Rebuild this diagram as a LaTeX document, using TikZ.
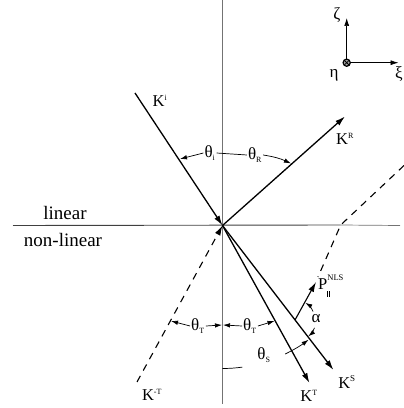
\documentclass[tikz,border=0pt]{standalone}
\usepackage{fontspec}
\setmainfont{Liberation Serif}
\usetikzlibrary{arrows.meta}
\begin{document}
\begin{tikzpicture}[x=1pt,y=1pt,
  ray/.style={line width=1.3pt,-{Latex[length=10pt,width=6pt]}},
  rayd/.style={line width=1.1pt,dash pattern=on 7pt off 6pt,-{Latex[length=10pt,width=6pt]}},
  dashedline/.style={line width=1.1pt,dash pattern=on 7pt off 6pt},
  axisline/.style={line width=0.7pt,black!55},
  dim/.style={line width=0.7pt,-{Latex[length=7pt,width=4.5pt]}},
  thinline/.style={line width=0.7pt},
  lbl/.style={inner sep=0pt,font=\fontsize{16.5}{16.5}\selectfont},
  glbl/.style={inner sep=1pt,font=\fontsize{17}{17}\selectfont},
  big/.style={inner sep=0pt,font=\fontsize{19}{19}\selectfont}
]
\useasboundingbox (0,0) rectangle (404,408);
% key points
\coordinate (O) at (222.5,182.5);
\coordinate (Kis) at (135,315);
\coordinate (KRe) at (345,291.5);
\coordinate (KTe) at (309.5,25);
\coordinate (KSe) at (333.5,38);
\coordinate (KmTs) at (137,26);
\coordinate (Vt) at (222.5,408);
\coordinate (Vb) at (222.5,4);
\coordinate (Hl) at (13,182.5);
\coordinate (Hr) at (400,182.5);
\coordinate (Dt) at (404,242.5);
\coordinate (Dm) at (340.7,183);
\coordinate (Db) at (318,131);
\coordinate (Ps) at (295,88);
\coordinate (Pe) at (316,126);
% axes of interface
\draw[axisline,line width=0.6pt] (Vt) -- (Vb);
\draw[line width=0.9pt,black!75] (Hl) -- (Dm);
\draw[axisline] (Dm) -- (Hr);
% dashed refracted line
\draw[dashedline] (Dt) -- (Dm) -- (Db);
% rays
\draw[ray] (Kis) -- (O);
\draw[ray] (O) -- (KRe);
\draw[ray] (O) -- (KTe);
\draw[ray] (O) -- (KSe);
\draw[rayd] (KmTs) -- (O);
\draw[line width=1.1pt,-{Latex[length=10pt,width=6pt]}] (Ps) -- (Pe);
% labels
\node[big] (lin) at (65,195) {linear};
\node[big] (nonlin) at (63,168) {non-linear};
\node[lbl] (Ki) at (160,307) {K\textsuperscript{\fontsize{8}{8}\selectfont i}};
\node[lbl] (KR) at (345,269) {K\textsuperscript{\fontsize{8}{8}\selectfont R}};
\node[lbl] (KT) at (309,12) {K\textsuperscript{\fontsize{8}{8}\selectfont T}};
\node[lbl] (KS) at (347,26) {K\textsuperscript{\fontsize{9}{9}\selectfont S}};
\node[lbl] (KmT) at (152,13) {K\textsuperscript{\fontsize{8}{8}\selectfont -T}};
\node[glbl] (thi) at (210,255) {θ\textsubscript{\fontsize{8}{8}\selectfont i}};
\node[glbl] (thR) at (255,253) {θ\textsubscript{\fontsize{8}{8}\selectfont R}};
\node[glbl] (thTl) at (198,82) {θ\textsubscript{\fontsize{8}{8}\selectfont T}};
\node[glbl] (thTr) at (250,82) {θ\textsubscript{\fontsize{8}{8}\selectfont T}};
\node[glbl] (thS) at (264,53) {θ\textsubscript{\fontsize{8}{8}\selectfont S}};
\node[glbl] (al) at (316,89) {α};
\node[lbl,anchor=west] (P) at (318,122) {P\rlap{\raisebox{1.2ex}{\fontsize{8.5}{8.5}\selectfont NLS}}\raisebox{-0.9ex}{\rule{0.5pt}{6pt}\hspace{1.4pt}\rule{0.5pt}{6pt}}};
% angle markers
\coordinate (ai) at (180,249);
\coordinate (aR) at (291,244.5);
\draw[dim] (thi.west) -- (ai);
\draw[thinline] (thi.east) -- (thR.west);
\draw[dim] (thR.east) to[bend left=8] (aR);
\coordinate (tl) at (171,87);
\coordinate (tml) at (222,83);
\coordinate (tmr) at (223,83);
\coordinate (tr) at (274.5,87);
\draw[dim] (thTl.west) -- (tl);
\draw[dim] (thTl.east) -- (tml);
\draw[dim] (thTr.west) -- (tmr);
\draw[dim] (thTr.east) -- (tr);
\draw[thinline] (O) ++(-90:143) arc[start angle=-90,end angle=-82,radius=143];
\draw[dim] (O) ++(-64:143) arc[start angle=-64,end angle=-53,radius=143];
\draw[dim] (Ps) ++(25:20) arc[start angle=25,end angle=59,radius=20];
\draw[dim] (Ps) ++(-22:21) arc[start angle=-22,end angle=-51,radius=21];
% coordinate system
\coordinate (C) at (346.7,345.3);
\coordinate (Cz) at (346.7,390);
\coordinate (Cx) at (398.5,345.3);
\draw[thinline,-{Latex[length=8pt,width=5pt]}] (C) -- (Cz);
\draw[thinline,-{Latex[length=8pt,width=5pt]}] (C) -- (Cx);
\draw[line width=1.2pt,fill=black!35] (C) circle[radius=3.6];
\draw[line width=0.8pt] (C) ++(-2.5,-2.5) -- ++(5,5) (C) ++(-2.5,2.5) -- ++(5,-5);
\node[glbl] (zeta) at (337,393) {ζ};
\node[glbl] (eta) at (334,333) {η};
\node[glbl,anchor=east] (xi) at (404,334) {ξ};
\end{tikzpicture}
\end{document}
